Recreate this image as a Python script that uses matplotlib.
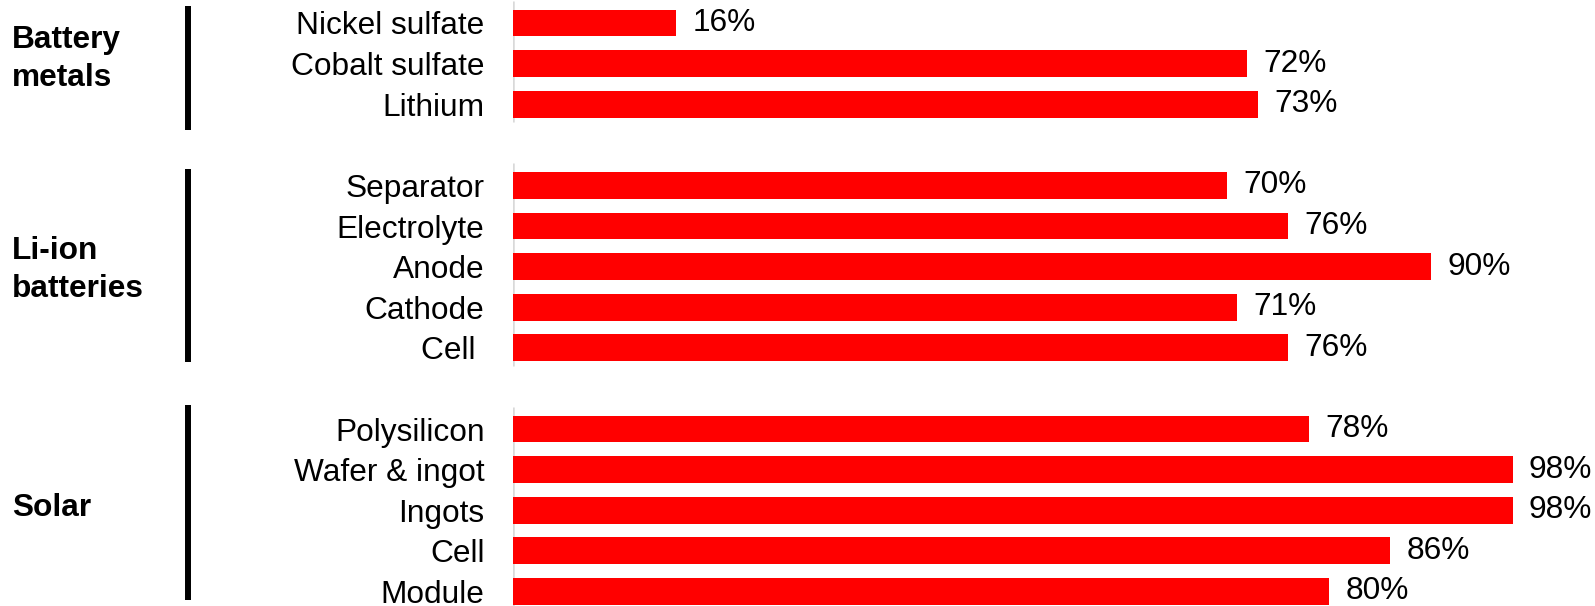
import matplotlib
matplotlib.use("Agg")
import matplotlib.pyplot as plt

# Share of global production capacity, by supply-chain step
groups = ["Battery\nmetals", "Li-ion\nbatteries", "Solar"]
battery_metals = ["Nickel sulfate", "Cobalt sulfate", "Lithium"]
battery_metals_pct = [16, 72, 73]
li_ion = ["Separator", "Electrolyte", "Anode", "Cathode", "Cell "]
li_ion_pct = [70, 76, 90, 71, 76]
solar = ["Polysilicon", "Wafer & ingot", "Ingots", "Cell", "Module"]
solar_pct = [78, 98, 98, 86, 80]

plt.rcParams["font.family"] = ["Liberation Sans", "DejaVu Sans"]

W, H, DPI = 1595, 606, 100
fig = plt.figure(figsize=(W / DPI, H / DPI), dpi=DPI)
ax = fig.add_axes([513 / W, 0, 1 - 513 / W, 1])

RED = "#ff0000"
FS = 22.8

# one blank row between groups
rows, labels, values, spans = [], [], [], []
pos = 0
for names, pcts in [(battery_metals, battery_metals_pct),
                    (li_ion, li_ion_pct),
                    (solar, solar_pct)]:
    start = pos
    for n, p in zip(names, pcts):
        rows.append(pos)
        labels.append(n)
        values.append(p)
        pos += 1
    spans.append((start, pos - 1))
    pos += 1

ax.barh(rows, values, height=0.665, color=RED, zorder=3)
for r, v in zip(rows, values):
    ax.text(v + 1.6, r, f"{v}%", va="center", ha="left", fontsize=FS,
            clip_on=False)

ax.set_yticks(rows)
ax.set_yticklabels(labels, fontsize=FS)
ax.tick_params(axis="y", length=0, pad=20.5)
ax.set_xticks([])
for s in ax.spines.values():
    s.set_visible(False)

# pixel scale: 10.2 px per percentage point, 40.6 px per row
ax.set_xlim(0, (W - 513) / 10.2)
ax.set_ylim((H - 23) / 40.6, -23 / 40.6)

# bracket extents (rows above first / below last) and label nudges
bracket_pad = [(0.42, 0.64), (0.4, 0.35), (0.6, 0.2)]
label_nudge = [-0.12, 0.08, -0.05]

for (a, b), g, (pt, pb), dy in zip(spans, groups, bracket_pad, label_nudge):
    ax.vlines(0, a - 0.55, b + 0.45, color="#d9d9d9", lw=1.8, zorder=2)
    # black bracket next to the group name
    y0 = ax.transData.transform((0, a - pt))[1] / H
    y1 = ax.transData.transform((0, b + pb))[1] / H
    fig.add_artist(plt.Line2D([188 / W, 188 / W], [y0, y1], color="black",
                              lw=4.3, solid_capstyle="butt"))
    yc = ax.transData.transform((0, (a + b) / 2 + dy))[1] / H
    fig.text(12 / W, yc, g, ha="left", va="center", fontsize=FS,
             fontweight="bold", linespacing=1.35)

fig.savefig("out.png", dpi=DPI)
